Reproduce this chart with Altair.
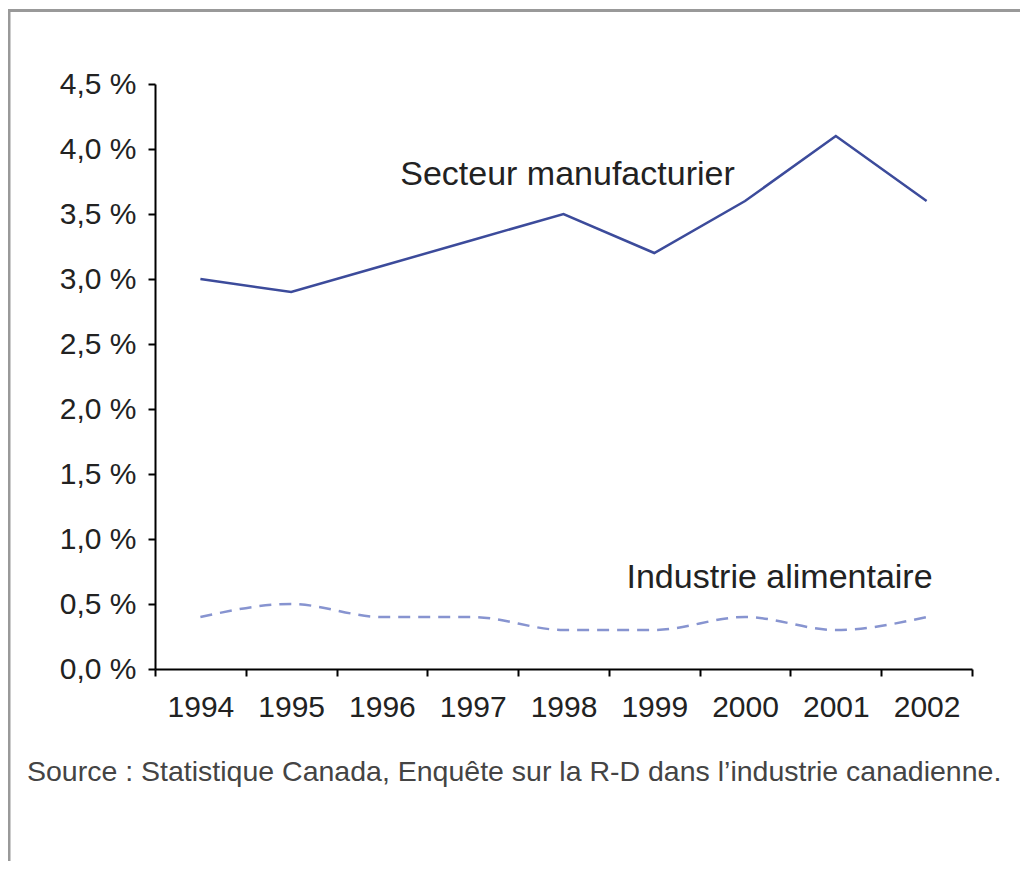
import altair as alt
import pandas as pd

years = ["1994", "1995", "1996", "1997", "1998", "1999", "2000", "2001", "2002"]
manufacturier = [3.0, 2.9, 3.1, 3.3, 3.5, 3.2, 3.6, 4.1, 3.6]
alimentaire = [0.4, 0.5, 0.4, 0.4, 0.3, 0.3, 0.4, 0.3, 0.4]
y_ticks = [0.0, 0.5, 1.0, 1.5, 2.0, 2.5, 3.0, 3.5, 4.0, 4.5]

label_names = ["Secteur manufacturier", "Industrie alimentaire"]
label_years = ["1998", "2002"]
label_values = [3.8, 0.7]

source_text = "Source : Statistique Canada, Enquête sur la R-D dans l’industrie canadienne."

FONT = "Liberation Sans"

df_m = pd.DataFrame({"year": years, "value": manufacturier})
df_f = pd.DataFrame({"year": years, "value": alimentaire})

x_scale = alt.Scale(type="band", domain=years, paddingInner=0, paddingOuter=0)
y_scale = alt.Scale(domain=[0, 4.5], nice=False, zero=True)

x_axis = alt.Axis(
    title=None, tickBand="extent", labelFont=FONT, labelFontSize=30,
    labelColor="#222222", labelPadding=16, tickSize=7, tickColor="#000000",
    domainColor="#000000", domainWidth=2, tickWidth=2, labelAngle=0, grid=False,
)
y_axis = alt.Axis(
    title=None, values=y_ticks, labelFont=FONT, labelFontSize=30,
    labelColor="#222222", labelPadding=12, tickSize=7, tickColor="#000000",
    domainColor="#000000", domainWidth=2, tickWidth=2, grid=False,
    labelExpr="replace(format(datum.value, '.1f'), '.', ',') + ' %'",
)

line_m = alt.Chart(df_m).mark_line(color="#3c4b9b", strokeWidth=2.5).encode(
    x=alt.X("year:O", scale=x_scale, axis=x_axis, bandPosition=0.5),
    y=alt.Y("value:Q", scale=y_scale, axis=y_axis),
)

line_f = alt.Chart(df_f).mark_line(
    color="#8794d0", strokeWidth=2.5, strokeDash=[12, 8], interpolate="monotone"
).encode(
    x=alt.X("year:O", scale=x_scale, bandPosition=0.5),
    y=alt.Y("value:Q", scale=y_scale),
)

df_lab = pd.DataFrame({"name": label_names, "year": label_years, "value": label_values})
lab_c = alt.Chart(df_lab.iloc[[0]]).mark_text(
    font=FONT, fontSize=34, color="#222222", align="center", baseline="middle", dx=4
).encode(
    x=alt.X("year:O", scale=x_scale, bandPosition=0.5),
    y=alt.Y("value:Q", scale=y_scale),
    text="name:N",
)
lab_r = alt.Chart(df_lab.iloc[[1]]).mark_text(
    font=FONT, fontSize=34, color="#222222", align="right", baseline="middle", dx=6
).encode(
    x=alt.X("year:O", scale=x_scale, bandPosition=0.5),
    y=alt.Y("value:Q", scale=y_scale),
    text="name:N",
)

df_src = pd.DataFrame({"t": [source_text]})
src = alt.Chart(df_src).mark_text(
    font=FONT, fontSize=28.5, color="#444444", align="left", baseline="middle"
).encode(x=alt.value(-128), y=alt.value(688), text="t:N")

frame_left = alt.Chart(df_src).mark_rule(color="#999999", strokeWidth=3).encode(
    x=alt.value(-146), y=alt.value(-75), y2=alt.value(800)
)
frame_top = alt.Chart(df_src).mark_rule(color="#999999", strokeWidth=3).encode(
    x=alt.value(-147.5), x2=alt.value(900), y=alt.value(-73.5)
)

chart = alt.layer(frame_left, frame_top, line_m, line_f, lab_c, lab_r, src).properties(
    width=817,
    height=585,
    autosize=alt.AutoSizeParams(type="none"),
    padding={"left": 147, "top": 76, "right": 48, "bottom": 192},
    background="white",
).configure_view(stroke=None)

chart.save("out.html", embed_options={"renderer": "svg", "actions": False})
